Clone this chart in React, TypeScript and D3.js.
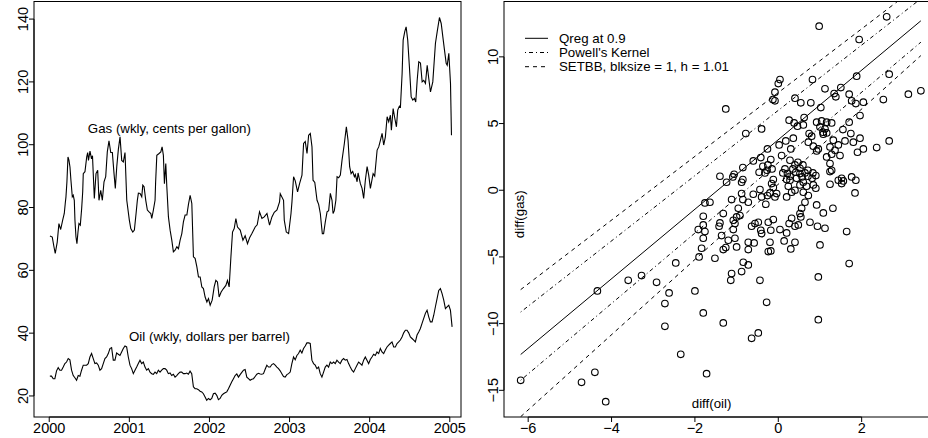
import React, { useEffect, useRef } from "react";
import * as d3 from "d3";

// weekly gas price (cents per gallon): [year, value]
const gas: [number, number][] = [
  [2000.009, 70.9], [2000.038, 70.6], [2000.059, 67.5], [2000.075, 65.4], [2000.1, 69.0], [2000.121, 74.9],
  [2000.143, 73.0], [2000.168, 76.0], [2000.188, 78.1], [2000.2, 81.3], [2000.209, 83.4], [2000.221, 88.2],
  [2000.234, 96.1], [2000.246, 95.1], [2000.259, 92.9], [2000.271, 88.7], [2000.288, 83.4], [2000.3, 83.9],
  [2000.313, 82.3], [2000.321, 76.0], [2000.334, 70.6], [2000.346, 68.5], [2000.359, 72.2], [2000.371, 74.9],
  [2000.388, 74.4], [2000.405, 79.7], [2000.418, 85.0], [2000.425, 90.8], [2000.446, 91.4], [2000.468, 96.1],
  [2000.48, 97.5], [2000.49, 95.0], [2000.509, 98.0], [2000.528, 95.5], [2000.54, 96.5], [2000.563, 82.9],
  [2000.584, 90.8], [2000.605, 91.9], [2000.621, 82.3], [2000.643, 85.5], [2000.663, 82.3], [2000.684, 88.2],
  [2000.705, 89.8], [2000.725, 97.7], [2000.746, 101.2], [2000.768, 97.5], [2000.788, 97.5], [2000.809, 90.8],
  [2000.825, 86.1], [2000.843, 93.0], [2000.863, 98.5], [2000.884, 102.5], [2000.905, 95.0], [2000.925, 94.5],
  [2000.946, 97.5], [2000.968, 82.3], [2001.0, 76.0], [2001.018, 73.3], [2001.043, 72.2], [2001.063, 72.8],
  [2001.084, 78.1], [2001.1, 82.3], [2001.113, 84.6], [2001.134, 84.5], [2001.155, 83.4], [2001.168, 87.1],
  [2001.184, 86.6], [2001.205, 82.3], [2001.225, 79.2], [2001.246, 78.6], [2001.268, 78.1], [2001.28, 76.5],
  [2001.3, 79.2], [2001.321, 82.3], [2001.328, 88.0], [2001.343, 96.6], [2001.371, 97.2], [2001.393, 97.7],
  [2001.409, 99.3], [2001.425, 96.6], [2001.438, 87.6], [2001.455, 94.0], [2001.468, 86.6], [2001.488, 77.0],
  [2001.509, 72.8], [2001.53, 69.6], [2001.55, 65.9], [2001.571, 66.4], [2001.593, 67.5], [2001.613, 66.9],
  [2001.634, 69.6], [2001.655, 71.7], [2001.675, 75.4], [2001.696, 77.6], [2001.718, 77.6], [2001.738, 81.0],
  [2001.759, 83.9], [2001.78, 81.3], [2001.8, 64.3], [2001.821, 63.8], [2001.843, 61.1], [2001.863, 57.9],
  [2001.884, 57.9], [2001.905, 54.7], [2001.925, 54.2], [2001.946, 51.5], [2001.968, 49.9], [2001.988, 51.0],
  [2002.009, 48.9], [2002.034, 50.5], [2002.059, 54.7], [2002.08, 56.8], [2002.1, 56.3], [2002.121, 51.5],
  [2002.146, 53.1], [2002.175, 54.2], [2002.205, 55.2], [2002.225, 56.8], [2002.246, 54.7], [2002.268, 64.3],
  [2002.288, 72.2], [2002.309, 73.3], [2002.33, 76.5], [2002.35, 73.8], [2002.384, 72.8], [2002.418, 69.6],
  [2002.446, 71.0], [2002.475, 68.5], [2002.503, 70.5], [2002.53, 71.7], [2002.571, 73.8], [2002.596, 74.5],
  [2002.625, 78.6], [2002.655, 76.5], [2002.684, 77.0], [2002.718, 78.1], [2002.75, 74.4], [2002.78, 77.0],
  [2002.809, 78.5], [2002.843, 79.2], [2002.875, 81.8], [2002.884, 84.4], [2002.925, 82.3], [2002.934, 76.0],
  [2002.959, 72.2], [2002.988, 71.7], [2003.018, 78.1], [2003.03, 81.8], [2003.05, 89.8], [2003.071, 88.5],
  [2003.1, 85.0], [2003.125, 87.6], [2003.155, 90.3], [2003.175, 100.4], [2003.196, 101.0], [2003.218, 97.2],
  [2003.238, 103.0], [2003.259, 103.6], [2003.28, 99.3], [2003.293, 88.7], [2003.315, 88.0], [2003.343, 82.3],
  [2003.363, 81.0], [2003.384, 78.1], [2003.396, 74.9], [2003.409, 71.7], [2003.425, 71.7], [2003.446, 75.4],
  [2003.468, 78.6], [2003.488, 79.0], [2003.509, 84.5], [2003.53, 82.3], [2003.543, 78.1], [2003.559, 79.0],
  [2003.578, 82.3], [2003.593, 89.8], [2003.613, 89.5], [2003.634, 90.3], [2003.655, 95.1], [2003.684, 100.4],
  [2003.709, 105.7], [2003.73, 101.4], [2003.75, 93.0], [2003.768, 90.8], [2003.788, 91.5], [2003.809, 89.8],
  [2003.821, 90.5], [2003.843, 88.2], [2003.855, 91.0], [2003.884, 87.6], [2003.905, 86.1], [2003.925, 82.9],
  [2003.946, 88.7], [2003.968, 93.0], [2003.988, 90.3], [2004.009, 86.1], [2004.043, 90.8], [2004.063, 90.0],
  [2004.093, 98.3], [2004.113, 99.3], [2004.134, 101.4], [2004.155, 103.6], [2004.175, 99.9], [2004.196, 102.5],
  [2004.218, 108.9], [2004.238, 107.3], [2004.259, 109.4], [2004.271, 104.6], [2004.293, 111.5], [2004.313, 108.5],
  [2004.334, 105.7], [2004.35, 111.0], [2004.371, 112.3], [2004.384, 112.0], [2004.405, 122.7], [2004.418, 133.3],
  [2004.438, 136.0], [2004.455, 137.5], [2004.475, 133.3], [2004.496, 124.8], [2004.518, 115.2], [2004.538, 114.2],
  [2004.559, 114.8], [2004.575, 113.6], [2004.593, 120.5], [2004.613, 126.4], [2004.634, 126.0], [2004.655, 120.0],
  [2004.675, 120.5], [2004.696, 119.5], [2004.718, 125.3], [2004.738, 121.0], [2004.759, 116.8], [2004.788, 120.0],
  [2004.821, 132.3], [2004.843, 136.0], [2004.871, 140.5], [2004.893, 138.6], [2004.913, 134.4], [2004.934, 130.1],
  [2004.955, 125.9], [2004.968, 125.3], [2004.988, 129.1], [2005.009, 119.5], [2005.021, 103.0],
];

// oil price (dollars per barrel), read every 1/48 year from the start date
const oilStart = 2000.008;
const oilStep = 1 / 48;
const oil = [
  26.3, 26.3, 25.5, 25.5, 28.0, 29.0, 28.2, 28.2, 29.2, 30.3,
  30.8, 31.9, 31.5, 28.2, 26.5, 25.8, 25.0, 26.5, 26.3, 28.2,
  29.8, 29.8, 29.8, 30.3, 32.4, 33.5, 31.9, 30.3, 30.5, 29.8,
  28.2, 28.7, 30.3, 31.9, 32.4, 33.5, 35.1, 35.4, 31.4, 31.4,
  33.7, 33.3, 32.9, 34.0, 35.1, 35.9, 35.6, 32.4, 29.8, 28.7,
  27.1, 28.2, 29.2, 30.3, 31.4, 30.3, 30.8, 29.2, 28.2, 28.7,
  27.6, 27.1, 26.9, 27.6, 27.1, 28.2, 27.6, 28.2, 28.7, 28.7,
  28.2, 27.1, 27.3, 26.5, 26.9, 26.0, 26.5, 27.1, 27.6, 27.6,
  27.1, 27.1, 27.3, 26.9, 27.9, 27.1, 22.9, 22.3, 22.3, 22.0,
  21.5, 21.3, 20.7, 19.7, 18.6, 19.2, 18.8, 19.2, 20.7, 20.9,
  20.2, 18.8, 19.2,
  20.2, 20.7, 21.0, 21.3, 22.3, 23.4, 24.5, 25.5, 26.5, 27.0,
  26.0, 26.8, 27.5, 28.2, 28.4, 26.0, 25.5, 25.0, 25.3, 25.5,
  26.2, 26.9, 27.2, 27.0, 26.9, 27.1, 28.5, 29.8, 29.2, 29.2,
  30.0, 30.3, 29.8, 29.2, 28.7, 28.0, 27.1, 26.2, 26.0, 26.8,
  27.1, 27.6, 30.3, 32.4, 31.5, 32.9, 33.5, 34.6, 33.7, 35.1,
  35.9, 36.9, 36.9, 36.7, 31.4, 30.3, 29.8, 28.7, 29.2, 27.1,
  26.0, 27.6, 29.2, 29.8, 29.2, 30.8, 30.3, 30.8, 30.3, 31.4,
  30.8, 30.3, 31.4, 31.9, 31.4, 31.6, 30.3, 29.2, 28.2, 27.6,
  28.7, 29.8, 30.8, 30.3, 29.8, 31.4, 32.4, 31.4, 30.3, 31.6,
  32.4, 33.3, 32.9, 34.0, 33.5, 35.1, 34.0, 33.5, 34.6, 35.6,
  36.2, 36.7, 37.2, 35.6, 35.6, 36.7, 37.2, 37.8, 38.8, 40.1,
  40.9, 40.9, 40.1, 38.8, 38.3, 37.8, 37.2, 39.4, 40.4, 41.5,
  43.1, 44.7, 46.3, 47.3, 45.2, 43.6, 43.6, 45.7, 48.4, 51.0,
  53.6, 54.2, 52.6, 50.5, 47.8, 48.4, 48.9, 47.3, 42.0,
];

// weekly differences: [diff(oil), diff(gas)]
const diffs: [number, number][] = [
  [2.6, 13.0], [0.98, 12.3], [1.94, 11.3], [2.66, 8.7], [1.88, 8.55], [0.82, 8.3], [0.04, 8.3], [0.0, 8.0],
  [-0.08, 7.35], [-0.13, 6.8], [-0.08, 6.7], [3.12, 7.2], [3.42, 7.45], [2.52, 6.8], [-1.26, 6.1],
  [1.12, 7.6], [1.5, 7.7], [1.34, 7.25], [1.38, 7.0], [1.7, 7.2], [0.4, 6.9], [0.54, 6.55], [0.78, 6.55],
  [1.76, 6.7], [1.86, 6.5], [2.04, 6.6], [1.02, 6.2], [1.96, 5.6], [0.26, 5.25], [0.38, 5.05], [0.46, 4.8],
  [0.62, 5.45], [0.6, 4.9], [0.92, 5.1], [1.04, 5.2], [1.16, 5.1], [1.28, 5.05], [1.0, 4.75], [1.12, 4.6],
  [1.07, 4.35], [1.16, 4.3], [1.08, 4.2], [1.7, 5.1], [1.55, 4.55], [0.74, 4.25], [0.8, 4.05], [1.74, 4.25],
  [1.96, 3.9], [1.8, 3.6], [1.6, 3.7], [1.32, 3.75], [1.44, 3.4], [2.04, 3.1], [2.36, 3.2], [2.66, 3.7],
  [0.18, 3.7], [0.36, 3.9], [0.72, 3.6], [0.84, 3.3], [1.24, 3.25], [1.36, 3.0], [1.28, 2.7], [0.92, 2.95],
  [0.96, 3.1], [0.3, 3.1], [1.9, 2.85], [1.48, 2.6], [1.16, 2.5], [0.08, 2.6], [-0.4, 4.6], [-0.78, 4.25],
  [0.02, 3.4], [-0.26, 3.1], [-0.42, 2.45], [-0.18, 2.3], [-0.6, 2.2], [-0.85, 1.7], [-0.37, 1.8], [-0.25, 1.9],
  [-0.27, 1.5], [-0.15, 1.6], [-0.32, 1.3], [0.16, 1.6], [0.22, 1.25], [0.2, 0.8], [-1.06, 1.2], [-1.09, 1.0],
  [-1.4, 1.05], [-0.85, 0.8], [-0.12, 0.8],
  [0.28, 2.25], [0.47, 2.1], [0.4, 1.9], [0.59, 1.9], [0.52, 1.65], [0.71, 1.5], [0.64, 1.3], [0.52, 1.25],
  [0.35, 1.6], [0.11, 1.3], [0.28, 1.05], [0.42, 1.35], [0.57, 1.0], [0.71, 1.05], [0.83, 1.3], [0.9, 1.1],
  [0.81, 0.9], [1.24, 2.0], [1.28, 1.5], [1.52, 0.9], [1.76, 1.0],
  [-1.24, 0.6], [-0.88, 0.6], [-1.76, -0.95], [-1.64, -0.9], [-1.12, -0.7], [-0.88, -0.25], [-0.85, -0.7],
  [-0.72, -0.9], [-0.6, -0.3], [-0.44, 0.05], [-0.4, -0.5], [-0.26, -0.4], [-0.3, -1.05], [-0.46, 1.35],
  [-0.16, 0.5], [-0.12, 0.2], [-0.04, -0.25], [-0.2, -0.2], [-0.08, -0.5], [0.24, 0.3], [0.2, -0.5],
  [-1.8, -1.95], [-1.32, -1.75], [-0.96, -1.35], [-0.92, -1.9], [-1.0, -2.0], [-1.08, -2.25], [-1.04, -2.5],
  [-1.4, -2.45], [-1.42, -2.7], [-1.8, -2.6], [-1.92, -2.95], [-1.76, -3.1], [-1.8, -3.6], [-1.36, -3.4],
  [-1.08, -2.95], [-0.56, -2.5], [-0.48, -2.4], [-0.64, -2.7], [-0.42, -3.0], [-0.4, -3.25], [-0.24, -2.4],
  [-0.12, -2.2], [-0.18, -3.0], [0.04, -2.95],
  [-1.84, -4.35], [-1.32, -4.45], [-1.26, -4.3], [-1.2, -3.75], [-1.04, -3.6], [-1.0, -4.25], [-0.72, -3.9],
  [-0.58, -3.95], [-0.72, -4.45], [-0.2, -3.9], [-0.24, -4.6], [-0.18, -4.55], [0.14, -3.8], [-1.9, -5.0],
  [-1.52, -5.1], [-0.84, -5.4], [-0.72, -5.6], [-1.12, -6.25], [-0.88, -6.1], [-0.44, -6.75], [-1.14, -6.75],
  [0.28, 0.75], [0.44, 0.9], [0.6, 0.6], [0.52, 0.4], [0.68, 0.3], [0.84, 0.4], [0.9, 0.15], [0.32, -0.15],
  [0.4, 0.0], [0.6, -0.15], [1.24, 1.4], [1.24, 0.45], [1.44, 0.75], [1.56, 0.7], [1.52, 0.5], [1.86, 0.75],
  [1.84, -0.2], [0.72, -0.4], [0.64, -0.9], [0.56, -1.35], [0.52, -1.75], [0.54, -2.0], [0.92, -1.1],
  [1.08, -1.7], [1.31, -1.35], [0.32, -2.1], [0.26, -2.5], [0.4, -2.7], [0.48, -2.6], [0.76, -2.4],
  [0.94, -2.7], [1.12, -2.85], [0.2, -3.2], [1.64, -3.1], [0.4, -3.9], [0.3, -4.4], [1.0, -4.1], [1.7, -5.5],
  [0.96, -6.5],
  [-0.28, -8.4], [-2.0, -7.55], [-1.8, -9.2], [-1.32, -9.95], [-0.48, -10.7], [-0.64, -11.1], [-1.72, -13.75],
  [0.96, -9.7],
  [-6.18, -14.25], [-4.34, -7.55], [-3.6, -6.75], [-3.28, -6.4], [-2.92, -6.9], [-2.46, -5.45], [-2.62, -7.7],
  [-2.72, -8.5], [-2.72, -10.2], [-2.34, -12.3], [-4.4, -13.65], [-4.72, -14.4], [-4.14, -15.85],
];

// fitted lines: y = a + b * x  (qreg, Powell band, SETBB band)
const lineNames = ["Qreg at 0.9", "Powell's Kernel", "SETBB, blksize = 1, h = 1.01"];
const lineIntercepts = [3.79, 5.99, 2.07, 7.32, 0.45];
const lineSlopes = [2.606, 2.447, 2.64, 2.39, 2.82];
const lineKind = [0, 1, 1, 2, 2];

const yearTicks = [2000, 2001, 2002, 2003, 2004, 2005];
const priceTicks = [20, 40, 60, 80, 100, 120, 140];
const oilDiffTicks = [-6, -4, -2, 0, 2];
const gasDiffTicks = [-15, -10, -5, 0, 5, 10];

const FONT = "'Liberation Sans', Arial, Helvetica, sans-serif";
const dashes = [null, "1,3,4,3", "4,4"];

export default function App() {
  const ref = useRef<SVGSVGElement>(null);

  useEffect(() => {
    const svg = d3.select(ref.current);
    svg.selectAll("*").remove();

    const tickLen = 5;
    const tickFont = 14.5;
    const textFont = 13.3;

    const drawAxes = (
      g: d3.Selection<SVGGElement, unknown, null, undefined>,
      x: d3.ScaleLinear<number, number>,
      y: d3.ScaleLinear<number, number>,
      xt: number[],
      yt: number[]
    ) => {
      const [x0, x1] = x.range();
      const [y1, y0] = y.range();
      g.append("rect")
        .attr("x", x0).attr("y", y0)
        .attr("width", x1 - x0).attr("height", y1 - y0)
        .attr("fill", "none").attr("stroke", "#000").attr("stroke-width", 1);

      g.append("line").attr("x1", x(xt[0])).attr("x2", x(xt[xt.length - 1]))
        .attr("y1", y1).attr("y2", y1).attr("stroke", "#000");
      g.selectAll(".xt").data(xt).enter().append("line")
        .attr("x1", (d) => x(d)).attr("x2", (d) => x(d))
        .attr("y1", y1).attr("y2", y1 + tickLen).attr("stroke", "#000");
      g.selectAll(".xl").data(xt).enter().append("text")
        .attr("x", (d) => x(d)).attr("y", y1 + 16.3)
        .attr("text-anchor", "middle")
        .style("font-family", FONT).style("font-size", `${tickFont}px`)
        .text((d) => (d < 0 ? `\u2212${-d}` : `${d}`));

      g.append("line").attr("x1", x0).attr("x2", x0)
        .attr("y1", y(yt[0])).attr("y2", y(yt[yt.length - 1])).attr("stroke", "#000");
      g.selectAll(".yt").data(yt).enter().append("line")
        .attr("x1", x0).attr("x2", x0 - tickLen)
        .attr("y1", (d) => y(d)).attr("y2", (d) => y(d)).attr("stroke", "#000");
      g.selectAll(".yl").data(yt).enter().append("text")
        .attr("transform", (d) => `translate(${x0 - 6.3},${y(d)}) rotate(-90)`)
        .attr("text-anchor", "middle")
        .style("font-family", FONT).style("font-size", `${tickFont}px`)
        .text((d) => (d < 0 ? `\u2212${-d}` : `${d}`));
    };

    // ---- left panel: price series
    const left = svg.append("g");
    const xT = d3.scaleLinear().domain([1999.81, 2005.14]).range([34, 461]);
    const yP = d3.scaleLinear().domain([13.3, 145.6]).range([417, 1.5]);

    const line = d3.line<[number, number]>()
      .x((d) => xT(d[0]))
      .y((d) => yP(d[1]));

    left.append("path").datum(gas).attr("d", line)
      .attr("fill", "none").attr("stroke", "#000").attr("stroke-width", 1.1);
    left.append("path")
      .datum(oil.map((v, i) => [oilStart + i * oilStep, v] as [number, number]))
      .attr("d", line)
      .attr("fill", "none").attr("stroke", "#000").attr("stroke-width", 1.1);

    left.append("text").attr("x", xT(2001.5)).attr("y", yP(105.3))
      .attr("text-anchor", "middle").attr("dominant-baseline", "central")
      .style("font-family", FONT).style("font-size", `${textFont}px`)
      .text("Gas (wkly, cents per gallon)");
    left.append("text").attr("x", xT(2002)).attr("y", yP(39))
      .attr("text-anchor", "middle").attr("dominant-baseline", "central")
      .style("font-family", FONT).style("font-size", `${textFont}px`)
      .text("Oil (wkly, dollars per barrel)");

    drawAxes(left, xT, yP, yearTicks, priceTicks);

    // ---- right panel: scatter of differences
    const right = svg.append("g");
    const xD = d3.scaleLinear().domain([-6.58, 3.8]).range([504, 936.7]);
    const yD = d3.scaleLinear().domain([-17.0, 14.15]).range([417, 1.5]);

    right.append("clipPath").attr("id", "rclip")
      .append("rect").attr("x", 504).attr("y", 1.5).attr("width", 432.7).attr("height", 415.5);

    right.selectAll("circle.pt").data(diffs).enter().append("circle")
      .attr("class", "pt")
      .attr("cx", (d) => xD(d[0])).attr("cy", (d) => yD(d[1]))
      .attr("r", 3.3)
      .attr("fill", "none").attr("stroke", "#000").attr("stroke-width", 1.1);

    const [xmin, xmax] = d3.extent(diffs, (d) => d[0]) as [number, number];
    const fits = right.append("g").attr("clip-path", "url(#rclip)");
    lineIntercepts.forEach((a, i) => {
      const b = lineSlopes[i];
      fits.append("line")
        .attr("x1", xD(xmin)).attr("y1", yD(a + b * xmin))
        .attr("x2", xD(xmax)).attr("y2", yD(a + b * xmax))
        .attr("stroke", "#000").attr("stroke-width", 1)
        .attr("stroke-dasharray", dashes[lineKind[i]]);
    });

    // legend
    const lg = right.append("g");
    lineNames.forEach((name, i) => {
      const ly = 38.3 + i * 14.2;
      lg.append("line").attr("x1", 525).attr("x2", 548).attr("y1", ly).attr("y2", ly)
        .attr("stroke", "#000").attr("stroke-dasharray", dashes[i]);
      lg.append("text").attr("x", 559).attr("y", ly).attr("dominant-baseline", "central")
        .style("font-family", FONT).style("font-size", `${textFont}px`).text(name);
    });

    right.append("text").attr("x", xD(-1.6)).attr("y", yD(-16.0))
      .attr("text-anchor", "middle").attr("dominant-baseline", "central")
      .style("font-family", FONT).style("font-size", `${textFont}px`).text("diff(oil)");
    right.append("text")
      .attr("transform", `translate(${xD(-6.22)},${yD(-1.8)}) rotate(-90)`)
      .attr("text-anchor", "middle").attr("dominant-baseline", "central")
      .style("font-family", FONT).style("font-size", `${textFont}px`).text("diff(gas)");

    drawAxes(right, xD, yD, oilDiffTicks, gasDiffTicks);
  }, []);

  return (
    <svg
      ref={ref}
      width={928}
      height={438}
      style={{ position: "absolute", left: 0, top: 0, background: "#fff" }}
    />
  );
}
